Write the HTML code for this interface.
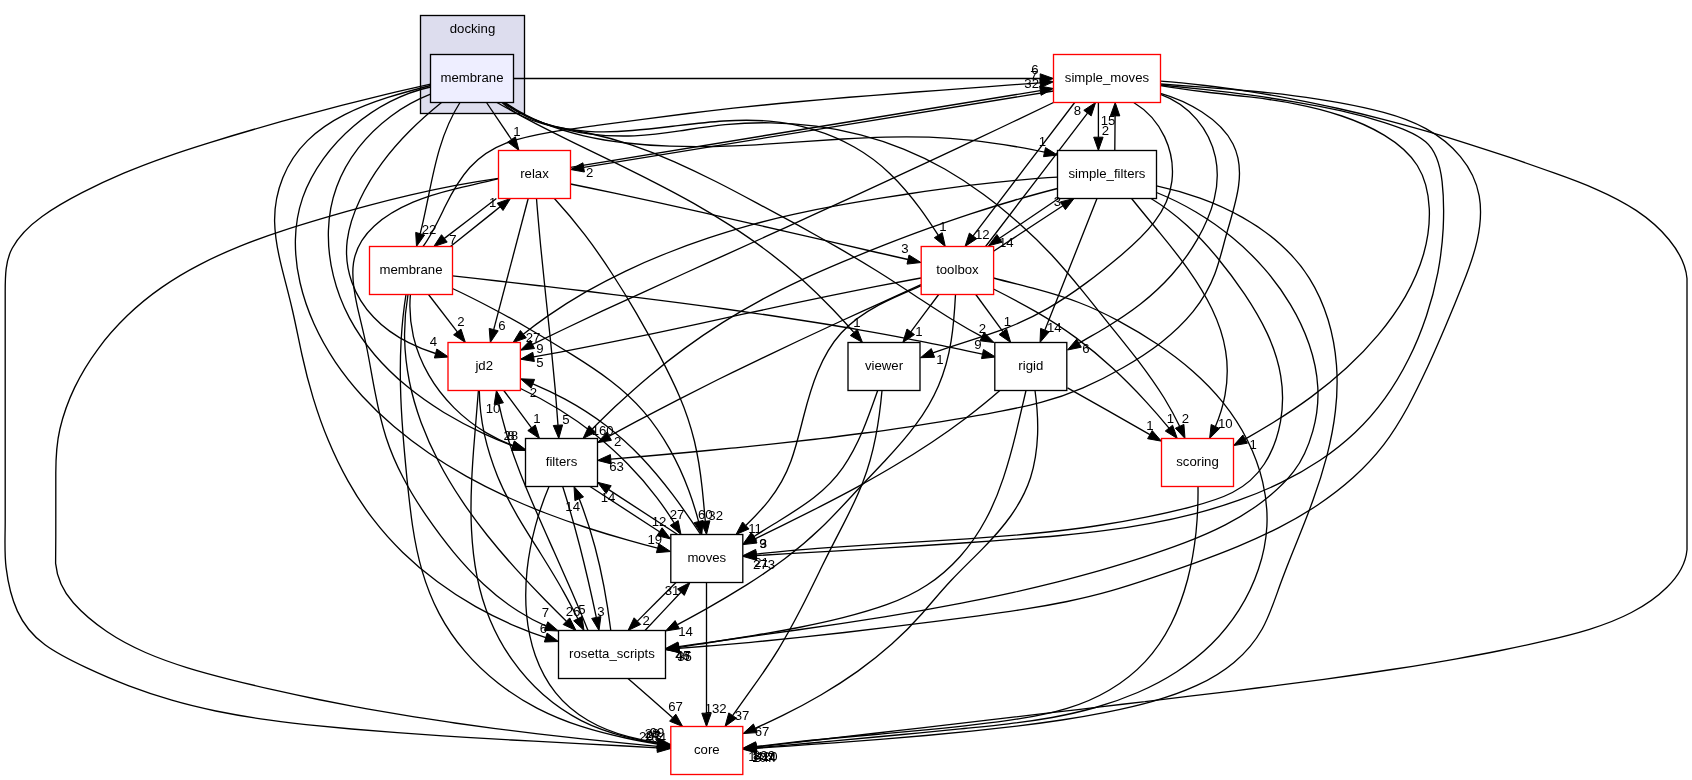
<!DOCTYPE html><html><head><meta charset="utf-8"><title>Directory dependency graph</title><style>html,body{margin:0;padding:0;background:#fff}svg{will-change:transform}svg text{font-family:"Liberation Sans",sans-serif;font-size:13.2px;fill:#000}</style></head><body><svg width="1692" height="780" viewBox="0 0 1692 780" style="display:block">
<rect width="1692" height="780" fill="#fff"/>
<rect x="420.5" y="15.5" width="104.0" height="98.0" fill="#ddddee" stroke="#000" stroke-width="1.33"/>
<text x="472.5" y="32.5" text-anchor="middle">docking</text>
<g fill="none" stroke="#000" stroke-width="1.33"><path d="M441.5,102.5C430.6,111.4 419.9,120.7 409.9,130.8C399.9,140.8 390.5,151.5 382.1,162.9C373.6,174.4 366.1,186.6 359.9,199.8C353.7,212.9 349.0,226.8 347.2,240.7C345.5,254.6 347.1,268.6 351.7,281.7C356.3,294.8 363.8,306.9 373.7,317.3C383.5,327.7 395.7,336.2 408.7,342.7C417.5,347.2 426.6,350.8 435.6,353.5"/><path d="M513.5,78.5C689.1,78.5 864.6,78.5 1040.2,78.5"/><path d="M430.5,94.2C416.5,99.7 403.1,107.1 390.9,116.2C378.7,125.3 367.7,136.0 358.4,147.9C349.2,159.8 341.7,173.0 336.6,187.0C331.5,200.9 328.8,215.8 328.4,230.8C328.0,245.9 329.7,261.1 333.4,275.9C337.0,290.6 342.5,304.8 349.4,317.9C356.4,331.1 364.9,343.3 374.6,354.7C384.2,366.0 395.1,376.5 406.7,386.1C418.4,395.8 430.9,404.5 443.9,412.5C457.0,420.4 470.5,427.6 484.2,433.9C493.7,438.3 503.4,442.3 513.0,446.0"/><path d="M430.5,87.0C416.7,90.0 403.1,95.0 390.1,101.7C377.2,108.3 364.8,116.6 353.5,126.3C342.2,135.9 332.0,146.9 323.3,158.9C314.7,170.9 307.5,184.0 302.7,197.6C298.0,211.2 295.7,225.3 295.4,239.6C295.1,253.9 296.7,268.3 300.0,282.5C303.3,296.8 308.1,310.7 314.1,324.1C320.1,337.4 327.3,350.1 335.4,362.2C343.5,374.2 352.6,385.6 362.4,396.3C372.2,407.0 382.8,417.1 394.0,426.6C405.2,436.1 416.9,445.0 429.1,453.3C441.2,461.6 453.8,469.3 466.5,476.4C479.3,483.5 492.3,490.1 505.4,496.2C518.5,502.2 531.8,507.8 545.3,513.0C558.8,518.2 572.4,523.0 586.2,527.5C600.0,532.0 613.9,536.2 628.0,540.1C637.8,542.9 647.7,545.6 657.6,548.2"/><path d="M505.0,102.5C516.9,110.8 529.6,117.5 542.8,122.9C556.0,128.4 569.8,132.6 583.8,135.8C597.9,139.1 612.2,141.4 626.6,143.0C641.0,144.7 655.5,145.7 669.9,146.2C684.3,146.7 698.7,146.8 713.1,146.5C727.5,146.2 741.9,145.6 756.4,144.8C770.8,143.9 785.2,142.9 799.5,141.9C813.9,140.9 828.3,139.9 842.7,139.0C857.1,138.1 871.4,137.4 885.8,137.1C900.2,136.7 914.6,136.7 929.0,137.2C943.3,137.7 957.7,138.8 972.1,140.4C986.5,142.0 1000.8,144.1 1015.0,146.5C1024.9,148.3 1034.7,150.1 1044.5,152.2"/><path d="M460.0,102.5C450.7,117.0 444.4,132.6 439.6,148.6C434.8,164.6 431.5,181.0 428.2,197.5C425.7,209.6 423.3,221.8 420.2,233.7"/><path d="M497.0,102.5C509.7,109.8 522.6,116.8 535.7,123.6C548.7,130.3 561.9,136.9 575.1,143.3C588.4,149.8 601.7,156.2 614.9,162.6C628.1,169.1 641.3,175.6 654.4,182.3C667.5,189.0 680.5,195.9 693.3,203.1C706.1,210.4 718.7,218.0 731.0,225.9C743.3,233.9 755.4,242.2 767.1,251.0C778.8,259.8 790.2,269.1 801.2,278.8C812.1,288.6 822.7,298.9 832.9,309.5C840.0,317.0 847.0,324.6 853.8,332.4"/><path d="M503.0,102.5C516.4,112.2 530.2,118.9 544.3,123.5C558.4,128.0 572.9,130.4 587.6,131.3C602.3,132.3 617.3,131.8 632.3,130.5C647.4,129.3 662.7,127.4 677.9,125.6C693.2,123.8 708.5,122.0 723.7,121.0C738.9,120.0 754.1,119.8 769.1,121.2C784.1,122.5 798.9,125.3 813.2,129.6C827.5,133.8 841.3,139.6 854.2,147.0C867.2,154.3 879.2,163.3 890.2,173.9C901.2,184.4 911.1,196.3 920.3,208.8C926.6,217.4 932.6,226.4 938.2,235.2"/><path d="M502.0,102.5C513.8,113.5 527.7,119.6 542.5,123.6C557.2,127.7 572.7,129.8 587.8,133.0C602.9,136.2 617.6,140.3 632.0,145.2C646.4,150.1 660.6,155.7 674.5,161.8C688.5,168.0 702.2,174.6 715.8,181.5C729.5,188.4 743.0,195.6 756.5,202.9C770.0,210.1 783.5,217.4 797.0,224.7C810.4,232.1 823.8,239.6 837.1,247.2C850.4,254.9 863.6,262.7 876.6,270.7C889.6,278.8 902.4,287.2 915.1,295.7C927.9,304.1 940.6,312.6 953.7,320.5C963.0,326.2 972.4,331.6 982.0,336.6"/><path d="M430.5,84.2C415.6,87.5 400.8,90.9 386.0,94.4C371.2,98.0 356.4,101.6 341.6,105.4C326.9,109.2 312.2,113.1 297.5,117.1C282.8,121.1 268.1,125.3 253.5,129.5C238.9,133.7 224.3,138.1 209.8,142.6C195.3,147.1 180.9,151.7 166.5,156.8C152.2,161.8 137.9,167.2 123.8,173.2C109.8,179.1 95.8,185.6 82.1,192.7C68.3,199.8 54.5,207.6 42.1,216.5C29.6,225.5 18.9,235.8 12.2,248.3C5.4,260.8 5.2,276.2 5.2,292.1C5.2,307.9 5.2,323.6 5.2,338.9C5.2,354.3 5.2,369.4 5.2,384.5C5.2,399.7 5.2,414.8 5.2,429.9C5.2,445.1 5.2,460.3 5.2,475.5C5.2,490.8 5.2,506.1 5.2,521.4C5.2,536.8 4.2,552.3 6.1,567.7C8.0,583.0 11.3,597.9 17.4,611.1C23.5,624.4 32.6,635.8 45.0,644.8C57.4,653.9 72.1,661.0 86.3,667.7C100.6,674.4 114.7,680.5 128.9,685.9C143.1,691.3 157.3,696.0 171.8,700.2C186.3,704.4 200.9,707.9 215.8,711.0C230.6,714.0 245.5,716.6 260.6,718.8C275.7,721.1 290.9,722.9 306.1,724.6C321.3,726.2 336.5,727.6 351.7,729.0C366.9,730.3 382.1,731.5 397.3,732.7C412.5,733.8 427.7,734.9 442.9,735.9C458.1,736.9 473.2,737.8 488.4,738.7C503.6,739.6 518.7,740.4 533.9,741.2C549.1,742.1 564.3,742.9 579.5,743.6C594.7,744.4 609.9,745.2 625.1,746.0C635.9,746.6 646.7,747.2 657.5,747.8"/><path d="M430.5,85.5C417.1,89.0 402.6,92.8 387.9,97.4C373.2,102.1 358.4,107.7 344.7,114.6C330.9,121.6 318.1,130.1 307.5,140.6C296.9,151.0 288.4,163.8 282.8,177.8C277.2,191.7 274.4,206.7 274.6,221.5C274.9,236.3 277.7,251.2 281.4,266.1C285.0,280.9 289.2,295.7 292.5,310.5C295.9,325.2 298.7,339.9 301.9,354.5C305.1,369.2 308.8,383.7 313.2,398.1C317.6,412.5 322.6,426.8 328.4,440.6C334.2,454.5 340.7,468.1 348.1,481.1C355.4,494.2 363.6,506.8 372.8,518.7C381.9,530.6 391.9,541.9 402.8,552.4C413.6,562.9 425.3,572.8 437.5,581.8C449.7,590.9 462.5,599.2 475.7,606.7C489.0,614.2 502.6,620.8 516.5,626.6C526.1,630.7 535.9,634.4 545.8,637.6"/><path d="M504.0,102.5C516.3,111.4 529.9,118.3 544.2,123.4C558.5,128.5 573.6,131.8 588.7,133.8C603.9,135.8 619.2,136.4 634.4,135.8C649.6,135.2 664.7,133.3 679.8,130.9C694.9,128.6 710.0,126.1 725.2,124.6C740.4,123.2 755.6,122.6 770.8,122.8C786.0,123.0 801.1,124.2 816.1,126.2C831.1,128.2 846.0,131.1 860.6,134.9C875.2,138.7 889.6,143.4 903.6,149.1C917.7,154.8 931.4,161.4 944.7,169.0C958.0,176.6 970.9,185.1 983.3,194.2C995.7,203.3 1007.6,213.1 1019.0,223.2C1030.4,233.3 1041.3,243.8 1051.5,254.8C1061.7,265.9 1071.5,277.5 1081.0,289.2C1090.6,300.9 1100.0,312.9 1109.6,324.8C1119.2,336.6 1128.8,348.5 1138.1,360.6C1147.3,372.8 1156.2,385.1 1164.2,398.0C1169.8,407.2 1175.0,416.6 1179.6,426.3"/><path d="M486.5,102.5C494.8,114.8 503.2,127.1 511.5,139.5"/><path d="M503.8,390.5C513.0,402.9 522.3,415.4 531.5,427.8"/><path d="M520.5,388.5C533.9,394.8 546.8,401.8 559.3,409.5C571.8,417.2 583.9,425.7 595.4,434.8C606.8,444.0 617.8,453.8 628.0,464.3C638.3,474.7 647.9,485.8 656.8,497.6C663.0,505.7 668.8,514.2 674.2,523.0"/><path d="M478.4,390.5C477.3,405.3 475.9,420.6 474.7,436.0C473.4,451.5 472.2,467.1 471.6,482.9C470.9,498.6 470.7,514.3 471.5,529.9C472.3,545.5 473.9,560.9 476.9,575.9C479.8,591.0 484.1,605.7 490.1,619.9C496.0,634.1 503.5,647.7 512.4,660.2C521.3,672.8 531.6,684.4 543.1,694.6C554.7,704.8 567.4,713.6 581.2,720.6C595.0,727.6 609.9,732.7 625.1,736.6C635.9,739.4 646.8,741.6 657.6,743.4"/><path d="M479.3,390.5C479.5,405.4 481.3,420.1 484.4,434.4C487.6,448.8 492.1,462.8 497.6,476.4C503.2,490.0 510.0,503.0 517.3,515.8C524.7,528.5 532.7,541.0 540.6,553.5C548.4,566.0 556.2,578.5 563.3,591.4C568.3,600.4 573.1,609.5 577.9,618.7"/><path d="M1053.5,102.5C1039.9,109.0 1026.3,115.5 1012.7,122.0C999.1,128.5 985.5,134.9 971.8,141.3C958.2,147.8 944.6,154.2 930.9,160.6C917.2,166.9 903.6,173.3 889.9,179.6C876.2,186.0 862.5,192.3 848.8,198.6C835.1,204.9 821.4,211.2 807.7,217.4C794.0,223.7 780.3,229.9 766.6,236.2C752.8,242.4 739.1,248.6 725.4,254.8C711.7,261.1 697.9,267.3 684.2,273.5C670.5,279.7 656.8,286.0 643.1,292.3C629.4,298.6 615.7,304.9 602.0,311.2C588.4,317.6 574.8,324.0 561.2,330.5C551.6,335.1 542.0,339.7 532.5,344.3"/><path d="M1160.5,93.3C1173.3,96.9 1188.3,103.2 1201.6,111.8C1214.9,120.3 1226.5,131.2 1233.0,144.0C1239.4,156.7 1240.6,171.1 1238.6,185.7C1236.7,200.3 1231.9,215.3 1227.6,230.3C1223.2,245.3 1220.0,260.2 1214.8,274.0C1209.6,287.8 1202.1,300.3 1193.0,311.7C1183.8,323.0 1173.0,333.2 1161.2,342.5C1149.4,351.7 1136.5,360.0 1123.3,367.5C1110.2,375.1 1096.7,381.9 1083.0,387.8C1069.3,393.7 1055.4,398.6 1041.0,402.4C1026.6,406.3 1012.0,409.0 997.3,411.8C982.7,414.6 968.0,417.2 953.3,419.7C938.6,422.2 923.8,424.6 909.1,426.8C894.3,429.0 879.6,431.1 864.8,433.0C850.0,435.0 835.2,436.9 820.3,438.6C805.5,440.4 790.7,442.1 775.8,443.7C761.0,445.3 746.1,446.8 731.2,448.2C716.4,449.7 701.5,451.1 686.7,452.5C671.8,453.9 656.9,455.2 642.1,456.5C631.6,457.4 621.2,458.3 610.8,459.2"/><path d="M1160.5,85.0C1175.6,86.5 1190.7,88.1 1205.8,89.7C1220.8,91.4 1235.9,93.2 1250.9,95.2C1265.9,97.3 1280.8,99.5 1295.7,102.1C1310.7,104.6 1325.5,107.4 1340.3,110.7C1355.1,114.0 1369.8,117.9 1384.5,122.7C1399.1,127.5 1414.7,132.7 1425.6,141.8C1436.5,151.0 1440.3,166.0 1442.1,181.6C1443.9,197.3 1443.9,213.3 1443.2,228.4C1442.4,243.4 1440.6,257.9 1437.9,272.4C1435.1,286.9 1431.3,301.5 1426.4,316.0C1421.5,330.6 1415.7,345.0 1408.7,358.8C1401.8,372.6 1393.9,386.0 1384.9,398.3C1376.0,410.7 1366.0,422.1 1355.1,432.4C1344.3,442.6 1332.5,451.9 1320.1,460.3C1307.7,468.6 1294.5,476.1 1280.9,482.7C1267.3,489.3 1253.2,495.1 1238.9,500.2C1224.5,505.4 1209.8,509.8 1195.1,513.6C1180.3,517.4 1165.5,520.7 1150.6,523.4C1135.7,526.2 1120.7,528.5 1105.7,530.4C1090.7,532.4 1075.7,534.0 1060.6,535.5C1045.5,536.9 1030.4,538.1 1015.3,539.2C1000.2,540.4 985.0,541.4 969.9,542.5C954.8,543.5 939.7,544.5 924.6,545.5C909.4,546.5 894.3,547.4 879.2,548.3C864.0,549.3 848.9,550.2 833.8,551.1C818.7,552.0 803.5,552.8 788.4,553.7C777.7,554.4 767.0,555.0 756.3,555.6"/><path d="M1098.4,102.5C1098.4,114.1 1098.4,125.6 1098.4,137.2"/><path d="M1133.7,102.5C1147.7,110.9 1158.1,123.1 1164.6,136.9C1171.1,150.8 1173.7,166.3 1171.9,181.1C1170.2,195.9 1163.7,209.7 1154.4,221.9C1145.1,234.0 1133.5,244.7 1121.7,254.7C1109.8,264.7 1097.8,274.4 1085.6,283.4C1073.3,292.5 1060.8,300.9 1047.8,308.4C1034.8,315.9 1021.2,322.4 1007.0,327.9C992.8,333.3 978.2,338.0 963.6,342.6C953.3,345.9 943.0,349.3 932.9,352.9"/><path d="M1074.7,102.5C1040.8,147.0 1007.0,191.4 973.1,235.9"/><path d="M1160.5,94.4C1175.2,99.7 1187.4,108.5 1196.7,119.4C1206.0,130.3 1212.4,143.3 1215.4,157.1C1218.3,170.8 1217.7,185.2 1214.2,199.2C1210.7,213.2 1204.5,227.0 1197.2,239.7C1189.9,252.4 1181.4,264.0 1171.8,274.8C1162.3,285.5 1151.8,295.2 1140.5,304.1C1129.2,312.9 1117.2,320.8 1104.8,328.2C1096.2,333.3 1087.5,338.2 1079.0,343.2"/><path d="M1160.5,81.2C1175.3,82.3 1190.2,83.8 1205.1,85.5C1219.9,87.2 1234.8,89.3 1249.6,91.6C1264.5,93.9 1279.3,96.5 1294.1,99.3C1308.9,102.1 1323.6,105.2 1338.3,108.5C1353.0,111.8 1367.6,115.3 1382.1,119.1C1396.7,122.8 1411.1,126.8 1425.4,130.9C1439.7,135.0 1453.9,139.3 1468.0,143.8C1482.2,148.3 1496.3,152.9 1510.5,157.7C1524.7,162.6 1538.9,167.5 1553.3,172.7C1567.8,177.8 1582.3,183.2 1596.3,189.3C1610.3,195.4 1623.8,202.3 1636.1,210.4C1648.4,218.6 1659.6,228.1 1668.9,239.5C1678.3,250.9 1685.8,264.2 1687.0,278.6C1687.0,293.1 1687.0,308.7 1687.0,324.0C1687.0,339.2 1687.0,354.3 1687.0,369.3C1687.0,384.3 1687.0,399.2 1687.0,414.1C1687.0,429.0 1687.0,443.8 1687.0,458.7C1687.0,473.7 1687.0,488.8 1687.0,504.1C1687.0,519.5 1687.0,535.2 1687.0,549.7C1685.7,564.2 1677.5,576.9 1667.0,587.2C1656.6,597.5 1644.5,605.7 1631.4,612.5C1618.3,619.4 1604.1,624.7 1589.5,629.3C1574.9,633.8 1559.8,637.5 1544.9,640.9C1530.0,644.4 1515.2,647.5 1500.5,650.5C1485.8,653.5 1471.2,656.2 1456.5,658.8C1441.9,661.5 1427.3,663.9 1412.6,666.3C1397.9,668.6 1383.1,670.9 1368.4,673.0C1353.6,675.2 1338.7,677.3 1323.9,679.3C1309.0,681.3 1294.1,683.3 1279.2,685.2C1264.3,687.1 1249.4,688.9 1234.5,690.8C1219.5,692.6 1204.6,694.4 1189.7,696.2C1174.8,698.0 1159.9,699.8 1145.0,701.6C1130.1,703.4 1115.2,705.1 1100.3,706.9C1085.4,708.7 1070.5,710.4 1055.6,712.2C1040.8,713.9 1025.9,715.7 1011.0,717.4C996.1,719.2 981.3,720.9 966.4,722.6C951.5,724.4 936.7,726.1 921.8,727.8C906.9,729.5 892.0,731.3 877.1,733.0C862.3,734.7 847.4,736.4 832.5,738.2C817.6,739.9 802.7,741.6 787.8,743.3C777.3,744.5 766.8,745.8 756.2,747.0"/><path d="M1160.5,84.0C1175.7,85.1 1190.8,86.2 1205.7,87.3C1220.6,88.4 1235.4,89.6 1250.2,91.0C1265.0,92.3 1279.7,93.9 1294.5,95.8C1309.2,97.7 1324.0,99.9 1338.9,102.6C1353.7,105.3 1368.8,108.4 1383.6,112.4C1398.4,116.4 1412.8,121.5 1425.9,128.6C1439.0,135.7 1450.9,145.1 1460.4,156.6C1469.9,168.1 1476.6,181.6 1479.2,195.9C1481.7,210.2 1480.5,225.4 1477.2,240.3C1473.9,255.1 1468.6,269.6 1462.9,283.7C1457.3,297.9 1451.6,311.8 1445.8,325.5C1440.0,339.2 1434.1,352.8 1427.9,366.3C1421.6,379.8 1415.1,393.3 1407.9,406.7C1400.6,420.0 1392.7,433.0 1383.6,444.9C1374.5,456.7 1364.2,467.6 1353.2,477.6C1342.1,487.6 1330.2,496.7 1317.7,505.0C1305.3,513.3 1292.2,520.8 1278.9,527.6C1265.5,534.4 1251.9,540.6 1238.0,546.4C1224.1,552.2 1210.0,557.5 1195.9,562.6C1181.7,567.7 1167.5,572.6 1153.4,577.4C1139.2,582.2 1125.1,586.8 1110.7,590.9C1096.4,595.0 1081.9,598.4 1067.2,601.5C1052.6,604.5 1037.8,607.1 1023.0,609.4C1008.2,611.8 993.3,613.8 978.4,615.8C963.5,617.8 948.6,619.7 933.7,621.6C918.8,623.5 903.9,625.4 889.1,627.2C874.2,629.0 859.3,630.8 844.5,632.5C829.6,634.2 814.7,635.8 799.9,637.4C785.0,639.0 770.1,640.5 755.2,641.9C740.3,643.3 725.4,644.6 710.4,645.8C699.9,646.7 689.4,647.5 678.8,648.3"/><path d="M1160.5,85.7C1175.4,88.3 1190.5,90.2 1205.7,92.0C1221.0,93.8 1236.3,95.3 1251.7,97.2C1267.0,99.1 1282.3,101.3 1297.3,104.3C1312.4,107.2 1327.3,111.0 1341.8,116.0C1356.4,120.9 1370.7,127.1 1384.1,135.1C1397.4,143.1 1409.4,152.9 1417.3,165.5C1425.1,178.0 1428.6,193.4 1429.3,208.8C1429.9,224.2 1427.8,239.3 1423.6,254.0C1419.4,268.6 1413.1,282.8 1405.4,296.3C1397.6,309.8 1388.4,322.6 1378.4,334.6C1368.3,346.7 1357.6,357.8 1346.4,368.1C1335.2,378.4 1323.5,387.9 1311.3,396.9C1299.2,405.8 1286.6,414.2 1273.6,422.3C1264.3,428.0 1254.8,433.6 1245.1,439.1"/><path d="M1053.5,91.0C896.9,116.5 740.3,141.9 583.7,167.4"/><path d="M590.0,486.5C613.2,501.6 636.4,516.7 659.5,531.7"/><path d="M549.0,486.5C543.7,499.0 539.1,512.4 535.3,526.4C531.6,540.4 528.7,554.9 527.1,569.6C525.6,584.2 525.2,599.0 526.5,613.5C527.8,627.9 530.6,642.1 535.3,655.5C540.1,668.9 546.8,681.7 555.5,692.7C564.3,703.8 575.3,713.0 587.8,720.3C600.2,727.6 614.2,732.9 628.4,736.7C638.1,739.3 648.0,741.3 657.6,742.7"/><path d="M562.7,486.5C568.6,505.0 574.4,525.1 580.0,547.0C585.6,568.8 591.0,592.3 596.3,617.4"/><path d="M700.7,534.5C691.7,521.1 682.5,507.7 672.7,494.7C662.9,481.7 652.6,469.2 641.5,457.5C630.4,445.8 618.4,435.1 605.6,425.3C592.8,415.6 579.2,406.9 565.0,399.2C554.6,393.5 543.9,388.4 532.9,383.8"/><path d="M677.6,534.5C654.6,519.5 631.6,504.6 608.7,489.6"/><path d="M706.5,582.5C706.5,626.1 706.5,669.6 706.5,713.2"/><path d="M676.0,582.5C663.1,595.4 650.3,608.2 637.4,621.1"/><path d="M1057.5,177.2C1042.7,178.0 1027.9,179.2 1013.2,180.6C998.4,182.0 983.7,183.6 968.9,185.4C954.2,187.3 939.5,189.3 924.8,191.4C910.1,193.6 895.5,195.9 880.8,198.2C866.2,200.6 851.6,203.0 837.0,205.7C822.4,208.3 807.9,211.2 793.5,214.4C779.0,217.6 764.7,221.2 750.4,225.1C736.2,229.1 722.0,233.4 707.9,238.2C693.8,242.9 679.9,248.0 666.1,253.5C652.3,259.0 638.6,264.9 625.2,271.3C611.8,277.7 598.7,284.6 585.8,291.9C573.0,299.3 560.5,307.2 548.3,315.6C539.8,321.5 531.4,327.7 523.3,334.2"/><path d="M1114.8,150.5C1114.9,138.9 1115.0,127.4 1115.1,115.8"/><path d="M1057.5,188.5C1042.9,192.2 1028.3,196.3 1013.9,200.5C999.4,204.7 985.0,209.2 970.6,213.9C956.2,218.7 941.9,223.6 927.7,228.7C913.5,233.8 899.3,239.2 885.2,244.7C871.2,250.2 857.1,255.9 843.2,261.7C829.2,267.6 815.4,273.6 801.6,279.9C787.9,286.3 774.4,292.9 761.1,300.1C747.8,307.2 734.8,314.8 722.1,322.9C709.3,331.0 696.8,339.5 684.7,348.4C672.5,357.3 660.6,366.7 649.1,376.4C637.5,386.1 626.2,396.3 615.2,406.6C607.5,414.0 599.9,421.4 592.3,429.0"/><path d="M1151.0,198.5C1164.1,206.4 1176.0,215.5 1187.0,225.5C1198.0,235.5 1208.1,246.4 1217.6,258.0C1227.1,269.5 1236.1,281.7 1244.6,294.2C1253.0,306.8 1260.8,319.8 1267.2,333.4C1273.5,347.0 1278.3,361.1 1280.7,375.9C1283.2,390.6 1283.2,406.3 1280.5,421.6C1277.7,436.9 1272.3,451.7 1264.3,464.0C1256.3,476.4 1245.4,485.9 1232.4,492.5C1219.5,499.1 1204.8,503.3 1190.1,507.1C1175.5,510.9 1160.7,514.2 1146.0,517.2C1131.2,520.2 1116.4,522.8 1101.6,525.0C1086.7,527.3 1071.9,529.2 1057.0,531.0C1042.1,532.7 1027.2,534.1 1012.2,535.4C997.3,536.7 982.3,537.8 967.3,538.9C952.4,539.9 937.4,540.8 922.4,541.7C907.4,542.6 892.4,543.5 877.4,544.4C862.5,545.3 847.5,546.2 832.5,547.3C817.6,548.4 802.6,549.5 787.7,550.9C777.2,551.8 766.7,552.9 756.2,554.1"/><path d="M1058.5,198.5C1038.8,211.8 1019.2,225.1 999.5,238.3"/><path d="M1097.0,198.5C1079.6,242.4 1062.3,286.2 1044.9,330.1"/><path d="M1156.5,185.9C1170.8,188.9 1185.5,193.0 1200.0,198.2C1214.5,203.4 1228.8,209.8 1242.4,217.4C1255.9,225.0 1268.7,233.8 1280.0,243.9C1291.4,254.1 1301.4,265.5 1309.4,278.3C1317.5,291.1 1323.6,305.2 1328.1,319.8C1332.6,334.5 1335.3,349.8 1336.5,365.2C1337.6,380.5 1337.2,395.8 1335.4,410.9C1333.7,426.0 1330.7,441.0 1326.9,455.8C1323.0,470.6 1318.4,485.2 1313.2,499.6C1308.1,513.9 1302.5,527.9 1296.8,541.9C1291.1,555.9 1285.4,570.0 1280.1,584.8C1274.7,599.7 1269.7,615.4 1262.3,628.7C1254.9,642.0 1245.2,653.1 1234.0,662.4C1222.8,671.8 1210.0,679.4 1196.3,685.7C1182.5,692.0 1167.8,697.1 1152.7,701.3C1137.6,705.6 1122.2,709.0 1107.0,712.1C1091.9,715.1 1076.8,717.7 1061.8,720.0C1046.8,722.3 1031.8,724.3 1016.8,726.1C1001.8,727.9 986.7,729.6 971.5,731.2C956.4,732.7 941.2,734.2 925.9,735.5C910.7,736.9 895.4,738.1 880.1,739.3C864.9,740.5 849.6,741.7 834.3,742.8C819.0,743.9 803.8,745.0 788.5,746.1C777.8,746.8 767.0,747.6 756.3,748.3"/><path d="M1156.5,192.5C1170.0,197.9 1183.2,204.5 1195.9,212.0C1208.7,219.6 1220.9,228.1 1232.3,237.6C1243.8,247.0 1254.5,257.4 1264.3,268.6C1274.0,279.7 1282.8,291.7 1290.3,304.4C1297.9,317.0 1304.3,330.4 1309.1,344.3C1313.9,358.2 1317.0,372.6 1317.8,387.2C1318.6,401.8 1316.9,416.6 1312.8,431.1C1308.7,445.6 1302.9,459.5 1293.9,471.2C1285.0,482.9 1273.9,492.9 1262.3,501.7C1250.7,510.6 1238.3,518.2 1225.3,524.9C1212.3,531.6 1198.7,537.4 1184.9,542.7C1171.0,548.0 1157.0,552.8 1142.9,557.4C1128.8,562.0 1114.6,566.3 1100.4,570.4C1086.2,574.4 1072.0,578.3 1057.7,581.9C1043.4,585.5 1029.1,588.9 1014.7,592.1C1000.3,595.3 985.9,598.3 971.4,601.2C957.0,604.1 942.5,606.8 928.0,609.4C913.5,612.0 899.0,614.4 884.4,616.8C869.9,619.2 855.3,621.4 840.8,623.6C826.2,625.8 811.6,627.9 797.0,630.0C782.4,632.1 767.8,634.2 753.1,636.2C738.5,638.2 723.9,640.3 709.3,642.3C699.1,643.7 688.9,645.2 678.7,646.6"/><path d="M1131.6,198.5C1140.4,209.6 1150.1,221.1 1159.8,232.9C1169.6,244.8 1179.3,257.0 1188.3,269.6C1197.2,282.2 1205.4,295.3 1211.9,308.8C1218.4,322.3 1223.3,336.3 1225.6,350.8C1228.0,365.2 1227.7,380.3 1225.0,395.2C1223.0,405.9 1219.8,416.4 1215.4,426.5"/><path d="M428.5,294.5C438.1,307.0 447.7,319.5 457.3,331.9"/><path d="M423.0,246.5C431.7,234.9 438.3,220.5 445.2,206.3C452.2,192.1 459.9,178.4 469.8,167.5C479.8,156.5 492.1,148.4 506.1,143.1C520.2,137.8 535.7,134.8 551.0,132.1C566.3,129.5 581.7,127.5 597.0,125.4C612.3,123.4 627.4,121.4 642.6,119.4C657.7,117.4 672.8,115.4 687.9,113.5C703.0,111.6 718.2,109.9 733.3,108.2C748.5,106.6 763.7,105.0 778.9,103.5C794.1,102.1 809.4,100.7 824.6,99.4C839.9,98.0 855.1,96.8 870.4,95.6C885.7,94.3 901.0,93.2 916.2,92.0C931.5,90.9 946.8,89.7 962.1,88.6C977.3,87.5 992.6,86.4 1007.8,85.2C1018.6,84.4 1029.4,83.6 1040.2,82.8"/><path d="M410.4,294.5C409.1,309.0 410.3,323.1 413.4,336.6C416.6,350.1 421.8,362.9 428.7,374.9C435.5,386.8 444.1,397.8 453.9,407.6C463.7,417.4 474.8,426.0 486.9,433.1C495.1,437.9 503.8,442.1 512.8,445.4"/><path d="M452.5,288.5C466.4,295.0 480.0,301.9 493.4,309.0C506.9,316.1 520.1,323.5 533.2,331.2C546.4,338.9 559.4,346.8 572.4,354.9C585.4,363.0 598.3,371.4 610.5,380.7C622.6,389.9 633.8,400.1 643.7,411.6C653.5,423.1 662.1,435.6 669.6,448.9C677.1,462.2 683.5,476.2 688.8,490.5C692.6,500.7 695.8,511.1 698.6,521.6"/><path d="M452.5,275.8C467.7,277.5 482.8,279.3 498.0,281.0C513.1,282.7 528.3,284.5 543.5,286.2C558.6,288.0 573.8,289.7 588.9,291.5C604.1,293.4 619.2,295.2 634.4,297.1C649.5,298.9 664.7,300.9 679.8,302.8C694.9,304.8 710.1,306.8 725.2,309.0C740.3,311.1 755.4,313.2 770.5,315.5C785.5,317.7 800.6,320.1 815.7,322.5C830.7,324.9 845.8,327.4 860.8,330.1C875.8,332.7 890.8,335.4 905.8,338.3C920.8,341.2 935.8,344.1 950.7,347.3C961.3,349.5 971.9,351.7 982.5,354.1"/><path d="M406.0,294.5C403.5,309.9 402.0,325.3 401.1,340.6C400.3,355.9 400.1,371.2 400.5,386.6C400.8,401.9 401.7,417.2 402.9,432.6C404.0,448.0 405.5,463.5 407.0,479.0C408.6,494.5 410.2,510.0 412.5,525.5C414.8,540.9 417.8,556.1 422.1,570.9C426.4,585.7 432.0,600.1 439.2,613.6C446.3,627.1 455.0,639.8 465.0,651.4C474.9,663.1 486.1,673.7 498.3,683.3C510.5,692.8 523.6,701.2 537.4,708.4C551.2,715.5 565.6,721.4 580.5,726.2C595.3,731.0 610.4,734.8 625.6,738.0C636.3,740.3 647.0,742.3 657.7,744.2"/><path d="M408.0,294.5C405.4,309.4 404.3,324.1 404.6,338.6C404.9,353.1 406.6,367.4 409.4,381.5C412.2,395.5 416.3,409.3 421.2,422.7C426.2,436.2 432.2,449.4 438.9,462.2C445.6,475.1 453.1,487.5 461.2,499.6C469.2,511.8 477.9,523.5 487.0,535.0C496.1,546.4 505.6,557.6 515.4,568.4C525.2,579.3 535.2,589.9 545.4,600.2C552.4,607.3 559.4,614.3 566.4,621.2"/><path d="M450.5,246.5C467.0,233.3 483.6,220.1 500.1,206.8"/><path d="M877.7,390.5C873.1,403.6 868.4,417.2 862.9,430.3C857.3,443.5 850.9,456.2 842.9,467.6C835.0,479.0 825.1,488.8 814.0,497.5C802.9,506.1 790.7,513.7 778.5,521.2C770.2,526.3 761.9,531.3 754.0,536.5"/><path d="M882.0,390.5C880.6,406.2 878.6,421.8 875.6,437.1C872.6,452.5 868.5,467.5 862.9,482.0C857.4,496.5 850.4,510.5 843.3,524.4C836.1,538.3 828.9,552.3 822.0,566.3C815.1,580.4 808.3,594.4 801.2,608.3C794.0,622.2 786.6,635.9 778.4,649.3C770.2,662.6 761.3,675.5 752.2,688.2C745.7,697.4 739.1,706.5 732.6,715.6"/><path d="M921.0,278.0C906.1,280.7 891.2,283.5 876.4,286.4C861.5,289.3 846.7,292.3 831.8,295.3C817.0,298.4 802.2,301.5 787.4,304.7C772.6,307.8 757.8,311.0 743.0,314.2C728.2,317.4 713.4,320.6 698.6,323.8C683.8,327.0 669.0,330.1 654.2,333.3C639.4,336.4 624.6,339.4 609.8,342.4C594.9,345.4 580.1,348.3 565.2,351.1C554.7,353.1 544.2,355.0 533.6,356.9"/><path d="M985.6,246.5C1019.6,202.0 1053.5,157.6 1087.5,113.1"/><path d="M921.0,284.7C907.3,290.9 893.6,297.1 880.0,303.3C866.3,309.5 852.7,315.7 839.0,322.0C825.4,328.3 811.8,334.6 798.2,341.0C784.6,347.4 771.1,353.8 757.6,360.3C744.0,366.8 730.6,373.4 717.1,380.0C703.7,386.7 690.3,393.4 676.9,400.3C663.6,407.1 650.3,414.1 637.0,421.1C627.7,426.1 618.4,431.1 609.2,436.2"/><path d="M921.0,285.8C907.7,291.4 892.8,297.5 878.6,305.1C864.5,312.7 851.3,321.7 841.2,333.0C831.0,344.2 823.6,357.5 817.7,371.8C811.8,386.0 807.5,401.3 803.6,416.5C799.7,431.7 796.2,446.8 790.9,461.2C785.7,475.5 778.2,488.7 768.6,500.8C761.7,509.5 753.9,517.7 745.8,525.4"/><path d="M993.5,251.3C1016.6,236.1 1039.7,221.0 1062.9,205.8"/><path d="M938.7,294.5C929.4,306.9 920.1,319.4 910.8,331.8"/><path d="M975.8,294.5C984.8,306.9 993.8,319.3 1002.9,331.7"/><path d="M993.5,278.0C1007.9,281.9 1022.3,285.4 1036.6,289.2C1050.9,293.1 1065.1,297.3 1078.8,302.5C1092.6,307.7 1105.8,314.1 1118.9,321.1C1131.9,328.1 1144.7,335.7 1157.1,344.0C1169.5,352.3 1181.4,361.2 1192.5,371.0C1203.7,380.8 1214.0,391.3 1223.3,402.9C1232.5,414.4 1240.7,426.9 1247.4,440.2C1254.1,453.6 1259.4,467.7 1262.7,482.1C1266.1,496.5 1267.6,511.3 1266.9,526.0C1266.1,540.7 1263.2,555.3 1258.4,569.3C1253.7,583.4 1247.2,597.0 1239.2,609.6C1231.2,622.2 1221.8,633.9 1211.3,644.3C1200.8,654.6 1189.2,663.7 1176.8,671.7C1164.5,679.7 1151.3,686.6 1137.7,692.5C1124.0,698.4 1109.8,703.4 1095.5,707.5C1081.1,711.6 1066.6,714.8 1052.1,717.5C1037.5,720.1 1022.9,722.1 1008.3,723.8C993.6,725.6 978.9,727.0 964.2,728.5C949.5,730.0 934.8,731.4 920.0,732.8C905.3,734.3 890.5,735.7 875.8,737.0C861.0,738.4 846.2,739.8 831.5,741.1C816.7,742.5 802.0,743.8 787.2,745.1C776.9,746.0 766.6,746.9 756.3,747.8"/><path d="M955.5,294.5C954.7,309.9 953.6,325.7 951.1,341.1C948.6,356.6 944.6,371.6 938.5,385.7C932.5,399.8 924.5,413.0 915.2,425.4C906.0,437.8 895.5,449.5 884.8,461.0C874.0,472.4 863.1,483.7 852.5,495.2C842.0,506.6 831.5,518.0 820.4,528.6C809.3,539.3 797.5,549.2 785.1,558.5C772.7,567.8 759.8,576.5 746.6,584.9C733.4,593.2 719.9,601.2 706.3,608.8C696.7,614.2 686.9,619.5 677.3,624.7"/><path d="M993.5,289.0C1007.8,296.2 1022.0,303.6 1035.8,311.6C1049.6,319.6 1063.0,328.2 1075.8,337.6C1088.6,347.0 1100.8,357.2 1112.5,368.1C1124.3,378.9 1135.5,390.3 1146.4,402.1C1154.2,410.6 1161.7,419.3 1169.0,428.1"/><path d="M999.8,390.5C989.0,400.0 977.8,409.0 966.4,417.7C955.0,426.3 943.4,434.6 931.5,442.5C919.6,450.4 907.5,458.0 895.2,465.3C883.0,472.7 870.5,479.7 858.0,486.6C845.4,493.5 832.7,500.1 820.0,506.6C807.2,513.2 794.4,519.5 781.6,525.8C772.7,530.2 763.9,534.5 755.0,538.8"/><path d="M1035.0,390.5C1037.0,404.8 1038.1,419.7 1037.6,434.5C1037.0,449.3 1034.9,464.0 1030.5,477.7C1026.0,491.4 1019.1,504.1 1010.7,516.0C1002.3,527.8 992.5,538.7 982.2,549.1C972.0,559.5 961.3,569.6 951.3,580.3C941.3,590.9 932.0,602.3 922.4,613.2C912.8,624.1 902.6,634.4 891.8,644.0C881.0,653.6 869.7,662.6 857.9,671.1C846.1,679.5 833.9,687.3 821.3,694.7C808.7,702.1 795.9,708.9 782.8,715.4C773.7,719.9 764.5,724.2 755.2,728.3"/><path d="M1026.0,390.5C1022.7,404.4 1019.5,418.9 1015.9,433.7C1012.3,448.4 1008.3,463.3 1003.4,477.9C998.6,492.4 992.8,506.6 985.6,519.8C978.5,533.1 969.9,545.5 960.1,556.5C950.2,567.6 939.1,577.3 926.7,585.3C914.4,593.4 900.8,599.6 886.6,604.7C872.4,609.8 857.7,613.9 843.0,617.7C828.3,621.4 813.5,624.6 798.7,627.5C783.9,630.4 769.1,633.0 754.3,635.4C739.4,637.9 724.6,640.2 709.8,642.5C699.4,644.2 689.0,645.8 678.6,647.6"/><path d="M1067.5,387.8C1095.0,403.4 1122.4,419.0 1149.9,434.6"/><path d="M588.0,630.5C582.8,617.2 577.2,604.1 571.5,590.9C565.8,577.8 559.9,564.7 554.0,551.6C548.2,538.6 542.3,525.5 536.6,512.3C530.9,499.2 525.3,486.0 520.1,472.7C514.9,459.4 510.1,445.9 506.1,432.3C503.3,422.8 500.8,413.3 498.8,403.6"/><path d="M610.8,630.5C607.0,600.2 601.8,572.4 595.0,547.0C590.4,529.8 585.1,513.7 579.2,498.8"/><path d="M645.0,630.5C657.0,617.7 668.9,605.0 680.9,592.2"/><path d="M628.0,678.5C642.9,691.6 657.8,704.6 672.7,717.7"/><path d="M1198.0,486.5C1198.2,501.2 1197.6,516.7 1196.0,532.5C1194.3,548.2 1191.6,564.1 1187.6,579.5C1183.5,594.9 1178.1,609.9 1171.2,623.8C1164.2,637.7 1155.6,650.5 1145.2,661.6C1134.8,672.7 1122.7,682.2 1109.5,690.0C1096.3,697.8 1082.0,703.9 1067.1,708.4C1052.3,712.9 1036.8,716.0 1021.3,718.4C1005.8,720.9 990.2,722.9 974.7,724.7C959.2,726.6 943.7,728.2 928.3,729.7C912.8,731.2 897.4,732.6 882.0,733.9C866.6,735.3 851.2,736.6 835.7,738.0C820.3,739.4 804.9,740.9 789.4,742.6C778.4,743.8 767.3,745.1 756.2,746.5"/><path d="M528.2,198.5C516.7,242.2 505.2,285.9 493.7,329.6"/><path d="M570.5,167.3C727.1,141.7 883.7,116.2 1040.3,90.6"/><path d="M536.5,198.5C537.7,214.5 539.2,230.5 540.7,246.5C542.3,262.5 543.9,278.5 545.6,294.5C547.3,310.5 549.0,326.4 550.7,342.4C552.3,358.4 553.9,374.4 555.3,390.4C556.3,402.0 557.2,413.6 558.0,425.2"/><path d="M554.4,198.5C565.1,210.2 575.2,222.2 584.7,234.7C594.2,247.1 603.1,259.9 611.6,273.0C620.2,286.1 628.4,299.5 636.3,313.1C644.2,326.7 651.8,340.5 659.1,354.4C666.4,368.4 673.5,382.4 679.6,396.7C685.8,411.1 690.7,425.9 694.4,441.0C698.0,456.2 700.4,471.9 702.1,487.6C703.3,498.8 704.3,510.1 705.3,521.2"/><path d="M496.4,198.5C479.1,211.8 461.7,225.1 444.4,238.4"/><path d="M570.5,184.0C585.2,187.0 599.8,190.0 614.5,193.2C629.1,196.3 643.7,199.4 658.4,202.6C673.0,205.8 687.6,209.1 702.2,212.4C716.8,215.6 731.4,218.9 746.0,222.3C760.6,225.6 775.2,228.9 789.7,232.3C804.3,235.7 818.9,239.0 833.5,242.4C848.1,245.8 862.7,249.1 877.2,252.5C887.5,254.8 897.7,257.2 908.0,259.5"/><path d="M498.5,178.4C483.6,180.5 468.9,182.9 454.4,185.7C439.8,188.5 425.3,191.6 410.9,194.9C396.6,198.2 382.3,201.8 368.0,205.7C353.7,209.5 339.4,213.5 325.1,217.7C310.9,221.9 296.5,226.2 282.3,230.9C268.1,235.5 254.1,240.6 240.2,246.1C226.4,251.7 212.9,257.7 199.8,264.6C186.6,271.4 173.9,278.9 161.8,287.4C149.7,295.8 138.1,305.2 127.4,315.6C116.6,326.0 106.6,337.2 97.8,349.3C88.9,361.3 81.1,374.1 74.7,387.4C68.3,400.7 63.3,414.7 59.9,429.0C56.6,443.3 55.8,458.1 55.8,473.1C55.8,488.1 55.8,503.3 55.8,518.3C55.8,533.3 55.8,548.5 55.6,563.4C57.0,578.3 63.5,591.7 73.3,602.8C83.2,613.9 94.6,623.3 106.8,631.5C118.9,639.7 131.9,646.5 145.5,652.5C159.1,658.4 173.2,663.4 187.6,667.8C202.1,672.3 216.7,676.1 231.3,679.8C245.9,683.4 260.4,686.9 274.9,690.2C289.4,693.5 303.8,696.6 318.3,699.5C332.7,702.4 347.2,705.2 361.7,707.9C376.2,710.5 390.7,713.0 405.4,715.4C420.0,717.8 434.6,720.0 449.4,722.2C464.1,724.3 478.8,726.3 493.6,728.3C508.3,730.2 523.1,732.0 537.9,733.8C552.7,735.5 567.5,737.2 582.3,738.8C597.1,740.4 611.9,741.9 626.6,743.3C636.9,744.3 647.2,745.3 657.5,746.3"/><path d="M498.5,178.6C484.0,182.4 469.6,185.4 455.3,188.9C441.0,192.4 426.9,196.4 413.1,202.2C399.4,208.0 385.5,215.8 374.3,225.9C363.2,236.0 355.6,248.7 353.5,262.9C351.4,277.1 354.0,292.0 357.3,306.6C360.6,321.2 364.5,335.8 367.3,350.5C370.2,365.2 372.6,379.9 375.5,394.4C378.3,408.9 381.6,423.3 386.0,437.2C390.5,451.1 396.3,464.6 403.2,477.7C410.0,490.8 417.9,503.5 426.4,515.9C434.9,528.2 443.8,540.3 453.3,551.8C462.8,563.3 472.9,574.2 483.6,584.2C494.4,594.3 505.9,603.4 518.4,611.3C527.1,616.9 536.4,621.9 546.1,626.1"/></g>
<g fill="#000" stroke="#000" stroke-width="1"><path d="M448.5,357.0L434.4,358.0L436.8,349.0Z"/><path d="M1053.5,78.5L1040.2,83.2L1040.2,73.8Z"/><path d="M525.5,450.5L511.4,450.3L514.6,441.6Z"/><path d="M670.5,551.5L656.4,552.7L658.8,543.7Z"/><path d="M1057.5,155.0L1043.5,156.7L1045.5,147.6Z"/><path d="M416.5,246.5L415.7,232.4L424.6,235.0Z"/><path d="M862.5,342.5L850.3,335.5L857.3,329.4Z"/><path d="M945.3,246.5L934.3,237.7L942.2,232.7Z"/><path d="M994.0,342.5L980.0,340.8L984.1,332.4Z"/><path d="M670.8,748.5L657.2,752.4L657.7,743.1Z"/><path d="M558.5,641.5L544.4,642.0L547.1,633.1Z"/><path d="M1185.0,438.5L1175.4,428.2L1183.9,424.4Z"/><path d="M519.0,150.5L507.7,142.1L515.4,136.8Z"/><path d="M539.5,438.5L527.8,430.6L535.3,425.0Z"/><path d="M681.0,534.5L670.2,525.4L678.2,520.6Z"/><path d="M670.8,745.5L656.9,748.0L658.4,738.8Z"/><path d="M584.0,630.5L573.7,620.8L582.0,616.5Z"/><path d="M520.5,350.2L530.4,340.1L534.5,348.5Z"/><path d="M597.5,460.4L610.4,454.6L611.2,463.9Z"/><path d="M743.0,556.4L756.0,551.0L756.6,560.3Z"/><path d="M1098.4,150.5L1093.7,137.2L1103.1,137.2Z"/><path d="M920.5,357.7L931.3,348.6L934.6,357.3Z"/><path d="M965.0,246.5L969.4,233.1L976.8,238.7Z"/><path d="M1067.5,350.0L1076.6,339.2L1081.3,347.2Z"/><path d="M743.0,748.5L755.7,742.3L756.8,751.6Z"/><path d="M665.5,649.2L678.5,643.6L679.1,652.9Z"/><path d="M1233.5,445.6L1242.9,435.0L1247.4,443.2Z"/><path d="M570.5,169.5L582.9,162.8L584.4,172.0Z"/><path d="M670.7,539.0L657.0,535.6L662.1,527.8Z"/><path d="M670.8,744.5L657.0,747.4L658.2,738.1Z"/><path d="M599.0,630.5L591.7,618.4L600.9,616.5Z"/><path d="M520.5,378.8L534.6,379.4L531.1,388.1Z"/><path d="M597.5,482.3L611.2,485.7L606.1,493.5Z"/><path d="M706.5,726.5L701.8,713.2L711.2,713.2Z"/><path d="M628.0,630.5L634.1,617.8L640.7,624.4Z"/><path d="M513.0,342.6L520.4,330.5L526.3,337.8Z"/><path d="M1115.2,102.5L1119.8,115.9L1110.4,115.8Z"/><path d="M583.0,438.5L589.0,425.7L595.7,432.3Z"/><path d="M743.0,555.6L755.7,549.4L756.8,558.7Z"/><path d="M988.5,245.8L996.9,234.5L1002.2,242.2Z"/><path d="M1040.0,342.5L1040.6,328.4L1049.2,331.8Z"/><path d="M743.0,749.3L756.0,743.7L756.6,753.0Z"/><path d="M665.5,648.5L678.0,642.0L679.4,651.2Z"/><path d="M1209.6,438.5L1211.2,424.5L1219.6,428.5Z"/><path d="M465.4,342.5L453.6,334.8L461.0,329.1Z"/><path d="M1053.5,81.8L1040.6,87.5L1039.9,78.2Z"/><path d="M525.5,449.5L511.4,449.8L514.3,441.0Z"/><path d="M701.8,534.5L694.1,522.7L703.1,520.4Z"/><path d="M995.5,357.0L981.5,358.6L983.5,349.5Z"/><path d="M670.8,746.5L656.9,748.8L658.5,739.6Z"/><path d="M576.0,630.5L563.2,624.5L569.7,617.9Z"/><path d="M510.5,198.5L503.0,210.5L497.2,203.2Z"/><path d="M743.0,544.0L751.3,532.6L756.6,540.3Z"/><path d="M725.0,726.5L728.8,712.9L736.5,718.2Z"/><path d="M520.5,359.2L532.8,352.3L534.4,361.5Z"/><path d="M1095.6,102.5L1091.2,115.9L1083.8,110.3Z"/><path d="M597.5,442.7L606.9,432.2L611.4,440.3Z"/><path d="M736.0,534.5L742.6,522.0L749.0,528.9Z"/><path d="M1074.0,198.5L1065.4,209.7L1060.3,201.9Z"/><path d="M902.8,342.5L907.0,329.0L914.5,334.6Z"/><path d="M1010.7,342.5L999.1,334.5L1006.6,329.0Z"/><path d="M743.0,748.9L755.9,743.1L756.7,752.4Z"/><path d="M665.5,631.0L675.1,620.6L679.5,628.8Z"/><path d="M1177.3,438.5L1165.3,431.0L1172.6,425.2Z"/><path d="M743.0,544.6L753.0,534.6L757.0,543.0Z"/><path d="M743.0,733.6L753.4,724.0L757.1,732.6Z"/><path d="M665.5,649.8L677.9,643.0L679.4,652.2Z"/><path d="M1161.5,441.2L1147.6,438.7L1152.2,430.6Z"/><path d="M496.4,390.5L503.4,402.8L494.2,404.5Z"/><path d="M574.0,486.5L583.5,497.0L574.9,500.6Z"/><path d="M690.0,582.5L684.3,595.4L677.5,589.0Z"/><path d="M682.7,726.5L669.6,721.2L675.8,714.2Z"/><path d="M743.0,748.2L755.6,741.8L756.8,751.1Z"/><path d="M490.3,342.5L489.2,328.4L498.2,330.8Z"/><path d="M1053.5,88.5L1041.1,95.3L1039.6,86.0Z"/><path d="M558.8,438.5L553.3,425.5L562.6,424.9Z"/><path d="M706.5,534.5L700.6,521.6L709.9,520.8Z"/><path d="M433.8,246.5L441.5,234.7L447.2,242.1Z"/><path d="M921.0,262.5L907.0,264.1L909.0,255.0Z"/><path d="M670.8,747.5L657.1,750.9L658.0,741.6Z"/><path d="M558.5,631.0L544.4,630.4L547.8,621.8Z"/></g>
<rect x="430.5" y="54.5" width="83.0" height="48.0" fill="#eeeeff" stroke="black" stroke-width="1.33"/>
<text x="472.0" y="81.8" text-anchor="middle">membrane</text>
<rect x="1053.5" y="54.5" width="107.0" height="48.0" fill="white" stroke="red" stroke-width="1.33"/>
<text x="1107.0" y="81.8" text-anchor="middle">simple_moves</text>
<rect x="498.5" y="150.5" width="72.0" height="48.0" fill="white" stroke="red" stroke-width="1.33"/>
<text x="534.5" y="177.8" text-anchor="middle">relax</text>
<rect x="1057.5" y="150.5" width="99.0" height="48.0" fill="white" stroke="black" stroke-width="1.33"/>
<text x="1107.0" y="177.8" text-anchor="middle">simple_filters</text>
<rect x="369.5" y="246.5" width="83.0" height="48.0" fill="white" stroke="red" stroke-width="1.33"/>
<text x="411.0" y="273.8" text-anchor="middle">membrane</text>
<rect x="921.2" y="246.5" width="72.4" height="48.0" fill="white" stroke="red" stroke-width="1.33"/>
<text x="957.4" y="273.8" text-anchor="middle">toolbox</text>
<rect x="448.0" y="342.5" width="72.4" height="48.0" fill="white" stroke="red" stroke-width="1.33"/>
<text x="484.2" y="369.8" text-anchor="middle">jd2</text>
<rect x="848.0" y="342.5" width="72.0" height="48.0" fill="white" stroke="black" stroke-width="1.33"/>
<text x="884.0" y="369.8" text-anchor="middle">viewer</text>
<rect x="994.8" y="342.5" width="72.0" height="48.0" fill="white" stroke="black" stroke-width="1.33"/>
<text x="1030.8" y="369.8" text-anchor="middle">rigid</text>
<rect x="525.5" y="438.5" width="72.0" height="48.0" fill="white" stroke="black" stroke-width="1.33"/>
<text x="561.5" y="465.8" text-anchor="middle">filters</text>
<rect x="1161.5" y="438.5" width="72.0" height="48.0" fill="white" stroke="red" stroke-width="1.33"/>
<text x="1197.5" y="465.8" text-anchor="middle">scoring</text>
<rect x="670.8" y="534.5" width="72.0" height="48.0" fill="white" stroke="black" stroke-width="1.33"/>
<text x="706.8" y="561.8" text-anchor="middle">moves</text>
<rect x="558.5" y="630.5" width="107.0" height="48.0" fill="white" stroke="black" stroke-width="1.33"/>
<text x="612.0" y="657.8" text-anchor="middle">rosetta_scripts</text>
<rect x="670.8" y="726.5" width="72.0" height="48.0" fill="white" stroke="red" stroke-width="1.33"/>
<text x="706.8" y="753.8" text-anchor="middle">core</text>
<text x="433.5" y="346.1" text-anchor="middle">4</text>
<text x="1035.0" y="74.3" text-anchor="middle">6</text>
<text x="510.8" y="440.3" text-anchor="middle">28</text>
<text x="654.8" y="543.6" text-anchor="middle">19</text>
<text x="1042.4" y="146.4" text-anchor="middle">1</text>
<text x="429.0" y="234.1" text-anchor="middle">22</text>
<text x="857.0" y="327.4" text-anchor="middle">1</text>
<text x="942.9" y="231.2" text-anchor="middle">1</text>
<text x="982.3" y="332.9" text-anchor="middle">2</text>
<text x="652.0" y="737.6" text-anchor="middle">20</text>
<text x="543.4" y="632.6" text-anchor="middle">6</text>
<text x="1185.5" y="423.1" text-anchor="middle">2</text>
<text x="517.0" y="135.6" text-anchor="middle">1</text>
<text x="537.0" y="422.6" text-anchor="middle">1</text>
<text x="677.0" y="518.6" text-anchor="middle">27</text>
<text x="657.0" y="736.6" text-anchor="middle">99</text>
<text x="582.0" y="614.3" text-anchor="middle">5</text>
<text x="540.0" y="353.3" text-anchor="middle">9</text>
<text x="616.5" y="471.0" text-anchor="middle">63</text>
<text x="764.0" y="569.1" text-anchor="middle">273</text>
<text x="1105.4" y="134.9" text-anchor="middle">2</text>
<text x="939.8" y="364.1" text-anchor="middle">1</text>
<text x="982.3" y="239.1" text-anchor="middle">12</text>
<text x="1086.0" y="352.6" text-anchor="middle">6</text>
<text x="762.8" y="760.6" text-anchor="middle">1420</text>
<text x="683.4" y="659.8" text-anchor="middle">47</text>
<text x="1253.2" y="449.1" text-anchor="middle">1</text>
<text x="589.7" y="176.7" text-anchor="middle">2</text>
<text x="659.0" y="525.6" text-anchor="middle">12</text>
<text x="653.0" y="739.6" text-anchor="middle">27</text>
<text x="601.0" y="615.6" text-anchor="middle">3</text>
<text x="533.4" y="397.0" text-anchor="middle">2</text>
<text x="608.0" y="501.9" text-anchor="middle">14</text>
<text x="715.7" y="712.6" text-anchor="middle">132</text>
<text x="646.2" y="625.4" text-anchor="middle">2</text>
<text x="533.0" y="341.9" text-anchor="middle">27</text>
<text x="1108.0" y="125.1" text-anchor="middle">15</text>
<text x="602.7" y="435.0" text-anchor="middle">160</text>
<text x="761.5" y="567.1" text-anchor="middle">21</text>
<text x="1006.3" y="247.2" text-anchor="middle">14</text>
<text x="1054.3" y="331.8" text-anchor="middle">14</text>
<text x="765.0" y="761.6" text-anchor="middle">644</text>
<text x="684.5" y="660.6" text-anchor="middle">35</text>
<text x="1225.3" y="428.4" text-anchor="middle">10</text>
<text x="460.8" y="326.1" text-anchor="middle">2</text>
<text x="1034.0" y="80.1" text-anchor="middle">7</text>
<text x="510.8" y="440.3" text-anchor="middle">8</text>
<text x="715.7" y="520.4" text-anchor="middle">32</text>
<text x="978.0" y="348.8" text-anchor="middle">9</text>
<text x="650.0" y="740.6" text-anchor="middle">207</text>
<text x="573.0" y="615.6" text-anchor="middle">26</text>
<text x="492.6" y="207.2" text-anchor="middle">1</text>
<text x="762.8" y="548.0" text-anchor="middle">9</text>
<text x="742.0" y="720.1" text-anchor="middle">37</text>
<text x="540.0" y="366.6" text-anchor="middle">5</text>
<text x="1077.5" y="115.3" text-anchor="middle">8</text>
<text x="617.6" y="445.6" text-anchor="middle">2</text>
<text x="755.0" y="532.6" text-anchor="middle">11</text>
<text x="1057.5" y="205.8" text-anchor="middle">3</text>
<text x="919.0" y="336.2" text-anchor="middle">1</text>
<text x="1007.4" y="326.3" text-anchor="middle">1</text>
<text x="764.0" y="759.6" text-anchor="middle">899</text>
<text x="685.6" y="635.9" text-anchor="middle">14</text>
<text x="1170.4" y="422.6" text-anchor="middle">1</text>
<text x="763.5" y="548.4" text-anchor="middle">3</text>
<text x="762.0" y="736.3" text-anchor="middle">67</text>
<text x="682.5" y="659.6" text-anchor="middle">46</text>
<text x="1150.0" y="429.5" text-anchor="middle">1</text>
<text x="493.0" y="413.1" text-anchor="middle">10</text>
<text x="572.7" y="510.6" text-anchor="middle">14</text>
<text x="672.0" y="594.6" text-anchor="middle">31</text>
<text x="675.5" y="711.4" text-anchor="middle">67</text>
<text x="763.0" y="761.6" text-anchor="middle">107</text>
<text x="502.0" y="329.6" text-anchor="middle">6</text>
<text x="1031.7" y="88.1" text-anchor="middle">32</text>
<text x="565.8" y="423.6" text-anchor="middle">5</text>
<text x="705.3" y="518.6" text-anchor="middle">60</text>
<text x="452.8" y="244.3" text-anchor="middle">7</text>
<text x="905.0" y="253.3" text-anchor="middle">3</text>
<text x="655.0" y="741.6" text-anchor="middle">264</text>
<text x="545.4" y="617.1" text-anchor="middle">7</text>
</svg></body></html>
